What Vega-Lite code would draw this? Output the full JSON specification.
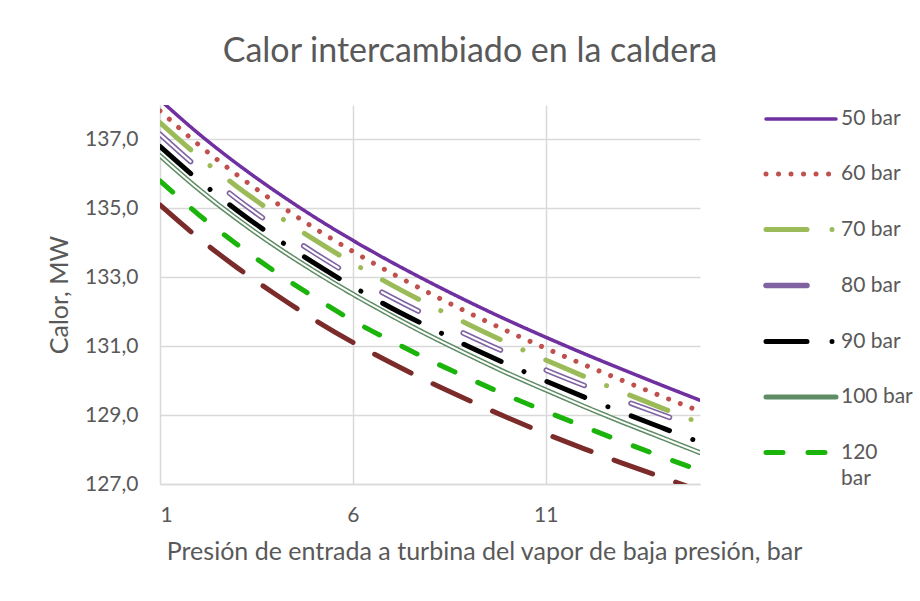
{
  "$schema": "https://vega.github.io/schema/vega-lite/v6.json",
  "width": 540,
  "height": 379,
  "autosize": {"type": "none"},
  "padding": {"left": 160, "top": 105, "right": 220, "bottom": 117},
  "background": "white",
  "config": {
    "font": "Lato",
    "view": {"stroke": null},
    "axis": {"labelColor": "#595959", "titleColor": "#595959", "titleFontWeight": "normal", "gridColor": "#D9D9D9", "gridWidth": 1.5}
  },
  "title": {
    "text": "Calor intercambiado en la caldera",
    "fontSize": 34,
    "fontWeight": "normal",
    "color": "#595959",
    "anchor": "middle",
    "frame": "group",
    "dx": 40,
    "offset": 13
  },
  "data": {
    "values": [
      {"p": 1, "50 bar": 138.15, "60 bar": 137.83, "70 bar": 137.49, "80 bar": 137.15, "90 bar": 136.80, "100 bar": 136.53, "120 bar": 135.80, "140 bar": 135.10},
      {"p": 2, "50 bar": 137.17, "60 bar": 136.85, "70 bar": 136.51, "80 bar": 136.16, "90 bar": 135.82, "100 bar": 135.56, "120 bar": 134.82, "140 bar": 134.14},
      {"p": 3, "50 bar": 136.29, "60 bar": 135.97, "70 bar": 135.63, "80 bar": 135.27, "90 bar": 134.94, "100 bar": 134.69, "120 bar": 133.95, "140 bar": 133.28},
      {"p": 4, "50 bar": 135.49, "60 bar": 135.17, "70 bar": 134.83, "80 bar": 134.46, "90 bar": 134.14, "100 bar": 133.90, "120 bar": 133.15, "140 bar": 132.50},
      {"p": 5, "50 bar": 134.75, "60 bar": 134.43, "70 bar": 134.09, "80 bar": 133.71, "90 bar": 133.41, "100 bar": 133.18, "120 bar": 132.42, "140 bar": 131.77},
      {"p": 6, "50 bar": 134.07, "60 bar": 133.75, "70 bar": 133.41, "80 bar": 133.03, "90 bar": 132.73, "100 bar": 132.51, "120 bar": 131.74, "140 bar": 131.11},
      {"p": 7, "50 bar": 133.44, "60 bar": 133.12, "70 bar": 132.78, "80 bar": 132.42, "90 bar": 132.11, "100 bar": 131.89, "120 bar": 131.15, "140 bar": 130.51},
      {"p": 8, "50 bar": 132.85, "60 bar": 132.53, "70 bar": 132.19, "80 bar": 131.85, "90 bar": 131.54, "100 bar": 131.30, "120 bar": 130.59, "140 bar": 129.95},
      {"p": 9, "50 bar": 132.29, "60 bar": 131.97, "70 bar": 131.63, "80 bar": 131.31, "90 bar": 130.99, "100 bar": 130.75, "120 bar": 130.07, "140 bar": 129.43},
      {"p": 10, "50 bar": 131.76, "60 bar": 131.44, "70 bar": 131.10, "80 bar": 130.80, "90 bar": 130.48, "100 bar": 130.22, "120 bar": 129.57, "140 bar": 128.93},
      {"p": 11, "50 bar": 131.26, "60 bar": 130.94, "70 bar": 130.60, "80 bar": 130.31, "90 bar": 129.99, "100 bar": 129.73, "120 bar": 129.11, "140 bar": 128.46},
      {"p": 12, "50 bar": 130.78, "60 bar": 130.46, "70 bar": 130.12, "80 bar": 129.86, "90 bar": 129.52, "100 bar": 129.25, "120 bar": 128.66, "140 bar": 128.02},
      {"p": 13, "50 bar": 130.32, "60 bar": 130.00, "70 bar": 129.66, "80 bar": 129.43, "90 bar": 129.07, "100 bar": 128.79, "120 bar": 128.22, "140 bar": 127.60},
      {"p": 14, "50 bar": 129.87, "60 bar": 129.55, "70 bar": 129.21, "80 bar": 129.02, "90 bar": 128.64, "100 bar": 128.35, "120 bar": 127.80, "140 bar": 127.20},
      {"p": 15, "50 bar": 129.43, "60 bar": 129.11, "70 bar": 128.77, "80 bar": 128.61, "90 bar": 128.21, "100 bar": 127.91, "120 bar": 127.39, "140 bar": 126.80}
    ]
  },
  "transform": [
    {"fold": ["50 bar", "60 bar", "70 bar", "80 bar", "90 bar", "100 bar", "120 bar", "140 bar"], "as": ["s", "q"]}
  ],
  "encoding": {
    "x": {
      "field": "p", "type": "quantitative",
      "scale": {"domain": [1, 15], "nice": false, "zero": false},
      "axis": {
        "values": [1, 6, 11], "format": "d",
        "title": "Presión de entrada a turbina del vapor de baja presión, bar",
        "titleFontSize": 25, "titleX": 324, "titlePadding": 14,
        "labelFontSize": 21, "labelPadding": 20, "ticks": false,
        "domainColor": "#D9D9D9", "domainWidth": 1.5
      }
    },
    "y": {
      "field": "q", "type": "quantitative",
      "scale": {"domain": [127, 138], "nice": false, "zero": false},
      "axis": {
        "values": [127, 129, 131, 133, 135, 137],
        "labelExpr": "replace(format(datum.value, '.1f'), '.', ',')",
        "title": "Calor, MW", "titleFontSize": 25, "titlePadding": 12,
        "labelFontSize": 21, "labelPadding": 22, "ticks": false, "domain": false
      }
    }
  },
  "layer": [
    {
      "mark": {"type": "line", "interpolate": "monotone", "strokeCap": "round", "strokeJoin": "round", "clip": true},
      "encoding": {
        "color": {
          "field": "s", "type": "nominal",
          "scale": {
            "domain": ["50 bar", "60 bar", "70 bar", "80 bar", "90 bar", "100 bar", "120 bar", "140 bar"],
            "range": ["#7030A0", "#C0504D", "#9BBB59", "#8064A2", "#000000", "#5E8C64", "#1AB40A", "#7B2C2A"]
          },
          "legend": {
            "title": null, "orient": "none", "legendX": 603, "legendY": -23,
            "values": ["50 bar", "60 bar", "70 bar", "80 bar", "90 bar", "100 bar", "120 bar"],
            "symbolType": "stroke", "symbolSize": 4900,
            "labelFontSize": 21, "labelColor": "#595959", "labelOffset": 2, "labelLimit": 100,
            "labelBaseline": "bottom", "rowPadding": 7.5, "padding": 0,
            "labelExpr": "datum.label == '120 bar' ? split(datum.label, ' ') : datum.label",
            "encode": {"symbols": {"update": {"strokeCap": {"value": "round"}}}, "labels": {"update": {"lineHeight": {"value": 26}, "dy": {"value": 10}}}}
          }
        },
        "strokeDash": {
          "field": "s", "type": "nominal",
          "scale": {
            "domain": ["50 bar", "60 bar", "70 bar", "80 bar", "90 bar", "100 bar", "120 bar", "140 bar"],
            "range": [[1, 0], [0.01, 12.5], [41, 25, 0.01, 25], [41, 50.01], [41, 25, 0.01, 25], [1, 0], [17, 25], [41, 24.5]]
          },
          "legend": {
            "title": null, "orient": "none", "legendX": 603, "legendY": -23,
            "values": ["50 bar", "60 bar", "70 bar", "80 bar", "90 bar", "100 bar", "120 bar"],
            "symbolType": "stroke", "symbolSize": 4900,
            "labelFontSize": 21, "labelColor": "#595959", "labelOffset": 2, "labelLimit": 100,
            "labelBaseline": "bottom", "rowPadding": 7.5, "padding": 0,
            "labelExpr": "datum.label == '120 bar' ? split(datum.label, ' ') : datum.label",
            "encode": {"symbols": {"update": {"strokeCap": {"value": "round"}}}, "labels": {"update": {"lineHeight": {"value": 26}, "dy": {"value": 10}}}}
          }
        },
        "strokeWidth": {
          "field": "s", "type": "nominal",
          "scale": {
            "type": "ordinal",
            "domain": ["50 bar", "60 bar", "70 bar", "80 bar", "90 bar", "100 bar", "120 bar", "140 bar"],
            "range": [3.5, 5, 5, 5.5, 5, 5, 5, 5]
          },
          "legend": {
            "title": null, "orient": "none", "legendX": 603, "legendY": -23,
            "values": ["50 bar", "60 bar", "70 bar", "80 bar", "90 bar", "100 bar", "120 bar"],
            "symbolType": "stroke", "symbolSize": 4900,
            "labelFontSize": 21, "labelColor": "#595959", "labelOffset": 2, "labelLimit": 100,
            "labelBaseline": "bottom", "rowPadding": 7.5, "padding": 0,
            "labelExpr": "datum.label == '120 bar' ? split(datum.label, ' ') : datum.label",
            "encode": {"symbols": {"update": {"strokeCap": {"value": "round"}}}, "labels": {"update": {"lineHeight": {"value": 26}, "dy": {"value": 10}}}}
          }
        }
      }
    },
    {
      "transform": [{"filter": "datum.s == '80 bar'"}],
      "mark": {"type": "line", "interpolate": "monotone", "stroke": "white", "strokeWidth": 2.2, "strokeDash": [41, 50.01], "strokeCap": "round", "clip": true},
      "encoding": {}
    },
    {
      "transform": [{"filter": "datum.s == '100 bar'"}],
      "mark": {"type": "line", "interpolate": "monotone", "stroke": "white", "strokeWidth": 2, "strokeCap": "round", "clip": true},
      "encoding": {}
    }
  ]
}
